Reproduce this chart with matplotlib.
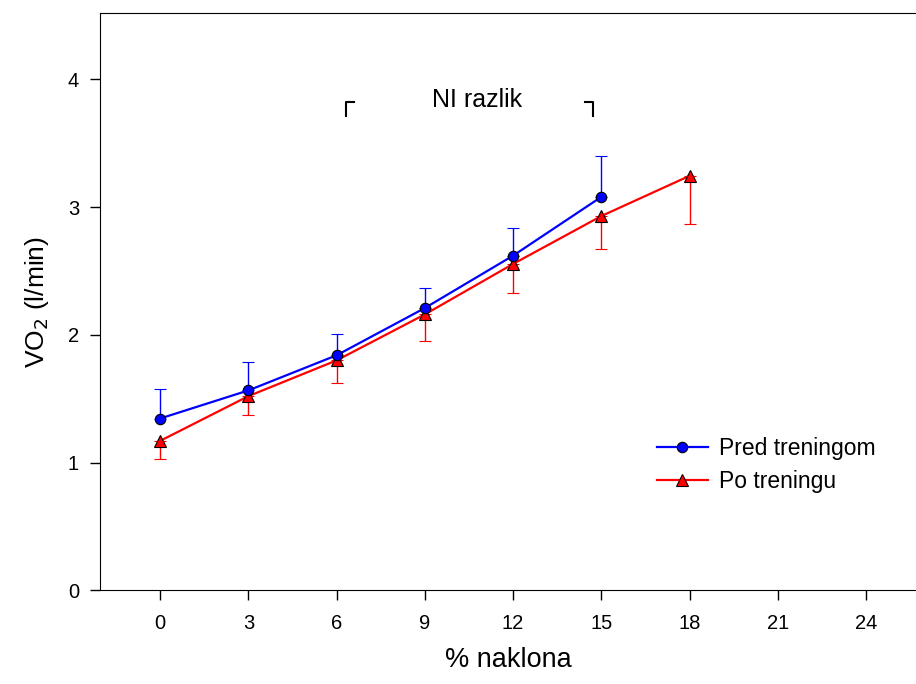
import numpy as np
import matplotlib.pyplot as plt
from matplotlib.lines import Line2D

plt.rcParams['font.family'] = ['Liberation Sans', 'DejaVu Sans']

# nagib (%) i VO2 (l/min)
x_pred = [0, 3, 6, 9, 12, 15]
vo2_pred = [1.345, 1.565, 1.84, 2.21, 2.62, 3.08]
sd_pred = [0.23, 0.22, 0.17, 0.16, 0.22, 0.32]

x_po = [0, 3, 6, 9, 12, 15, 18]
vo2_po = [1.17, 1.52, 1.80, 2.16, 2.555, 2.93, 3.245]
sd_po = [0.14, 0.15, 0.18, 0.21, 0.23, 0.26, 0.38]

fig = plt.figure(figsize=(9.16, 6.84), dpi=100)
ax = fig.add_axes([0.109, 0.137, 0.891, 0.844])

# blue: error bars only upward, red: only downward
ax.errorbar(x_pred, vo2_pred, yerr=[np.zeros(len(sd_pred)), sd_pred],
            color='blue', lw=1.6, elinewidth=1, capsize=4, capthick=1,
            marker='o', ms=7.5, mfc='blue', mec='black', mew=0.8, zorder=3)
ax.errorbar(x_po, vo2_po, yerr=[sd_po, np.zeros(len(sd_po))],
            color='red', lw=1.6, elinewidth=1, capsize=4, capthick=1,
            marker='^', ms=8, mfc='red', mec='black', mew=0.8, zorder=2)

# bracket NI razlik
ax.plot([6.33, 6.33, 6.6], [3.71, 3.82, 3.82], color='black', lw=1.5)
ax.plot([14.45, 14.72, 14.72], [3.82, 3.82, 3.71], color='black', lw=1.5)
ax.text(10.78, 3.84, 'NI razlik', ha='center', va='center', fontsize=18)

ax.set_xlim(-2.05, 25.7)
ax.set_ylim(0, 4.52)
ax.set_xticks([0, 3, 6, 9, 12, 15, 18, 21, 24])
ax.set_yticks([0, 1, 2, 3, 4])
ax.tick_params(direction='out', length=7, width=1, labelsize=14.5)
ax.tick_params(axis='x', pad=10)
ax.tick_params(axis='y', pad=8)
ax.spines['right'].set_visible(False)

ax.set_xlabel('% naklona', fontsize=19.5, labelpad=10)
ax.set_ylabel('VO$_2$ (l/min)', fontsize=19, labelpad=12)

handles = [
    Line2D([], [], color='blue', lw=1.6, marker='o', ms=7.5, mfc='blue', mec='black', mew=0.8),
    Line2D([], [], color='red', lw=1.6, marker='^', ms=8, mfc='red', mec='black', mew=0.8),
]
ax.legend(handles, ['Pred treningom', 'Po treningu'], loc='center left',
          bbox_to_anchor=(0.683, 0.217), frameon=False, fontsize=16.5,
          handlelength=2.2, handletextpad=0.5, labelspacing=0.4,
          borderpad=0, borderaxespad=0)

fig.savefig('out.png', dpi=100)
